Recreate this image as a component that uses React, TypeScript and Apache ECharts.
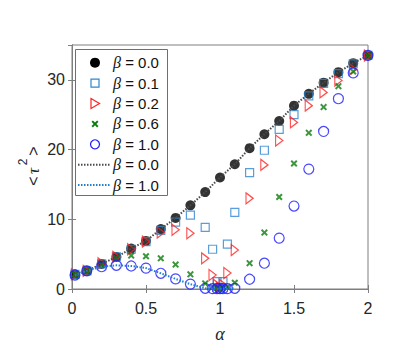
import React, { useEffect, useRef } from 'react';
import * as echarts from 'echarts';

// alpha grid for the beta = 0.0 markers and theory curve
const alphaCoarse = [0.02, 0.1, 0.2, 0.3, 0.4, 0.5, 0.6, 0.7, 0.8, 0.9, 1.0, 1.1, 1.2, 1.3, 1.4, 1.5, 1.6, 1.7, 1.8, 1.9, 2.0];
// alpha grid with refinement around alpha = 1
const alphaFine = [0.02, 0.1, 0.2, 0.3, 0.4, 0.5, 0.6, 0.7, 0.8, 0.9, 0.95, 0.98, 1.0, 1.02, 1.05, 1.1, 1.2, 1.3, 1.4, 1.5, 1.6, 1.7, 1.8, 1.9, 2.0];
// alpha grid of the beta = 1.0 theory curve
const alphaTheory1 = [0.02, 0.1, 0.2, 0.3, 0.4, 0.5, 0.6, 0.7, 0.8, 0.9, 0.95, 0.98, 1.0, 1.02, 1.05, 1.1];

const beta00 = [2.1, 2.6, 3.6, 4.6, 5.8, 6.9, 8.6, 10.2, 12.0, 13.9, 16.0, 17.9, 20.2, 22.2, 24.1, 26.3, 28.0, 29.6, 31.1, 32.4, 33.5];
const beta01 = [2.1, 2.6, 3.6, 4.6, 5.7, 6.8, 8.4, 9.6, 10.6, 8.85, 5.7, 1.05, 0.15, 1.05, 6.45, 11.0, 16.7, 19.9, 22.9, 25.0, 27.7, 29.5, 30.9, 32.3, 33.5];
const beta02 = [2.1, 2.6, 3.7, 4.6, 5.7, 6.8, 8.1, 8.5, 8.0, 4.4, 2.0, 0.6, 0.2, 0.6, 2.3, 5.6, 13.0, 17.8, 21.3, 23.9, 26.3, 28.2, 29.9, 31.5, 33.5];
const beta06 = [2.1, 2.6, 3.5, 4.4, 4.8, 4.7, 4.4, 3.5, 2.1, 0.8, 0.3, 0.15, 0.1, 0.15, 0.3, 0.9, 3.7, 8.1, 13.2, 18.0, 22.4, 26.1, 29.1, 31.2, 33.5];
const beta10 = [2.0, 2.6, 3.2, 3.4, 3.3, 3.0, 2.25, 1.45, 0.7, 0.1, 0.05, 0.05, 0.05, 0.05, 0.05, 0.1, 1.4, 3.7, 7.3, 11.9, 17.2, 22.6, 27.3, 31.0, 33.5];

const theory00 = [2.1, 2.6, 3.6, 4.6, 5.8, 6.9, 8.6, 10.2, 12.0, 13.9, 16.0, 17.9, 20.2, 22.2, 24.1, 26.3, 28.0, 29.6, 31.1, 32.4, 33.5];
const theory10 = [2.0, 2.6, 3.2, 3.4, 3.3, 3.0, 2.25, 1.45, 0.7, 0.1, 0.05, 0.03, 0.02, 0.03, 0.05, 0.1];

const xTicks = [0, 0.5, 1, 1.5, 2];
const yTicks = [0, 10, 20, 30];

const legendValues = ['0.0', '0.1', '0.2', '0.6', '1.0', '0.0', '1.0'];

const zip = (xs: number[], ys: number[]) => xs.map((x, i) => [x, ys[i]]);

const AXIS = '#7f7f7f';
const TXT = '#262626';
const SANS = '"Liberation Sans", Arial, sans-serif';
const SERIF = '"Liberation Serif", "Times New Roman", serif';

const C_BLACK = '#000000';
const C_SQ = '#2f86d0';
const C_TRI = '#ff2020';
const C_X = '#0b7d0b';
const C_CIR = '#1a1aff';
const C_L0 = '#4a4a4a';
const C_L1 = '#1f7fd0';

const X_PATH = 'path://M2,0 L5,3 L8,0 L10,2 L7,5 L10,8 L8,10 L5,7 L2,10 L0,8 L3,5 L0,2 Z';
const TRI_PATH = 'path://M0,0 L8,5 L0,10 Z';
const X_PTS = [[2, 0], [5, 3], [8, 0], [10, 2], [7, 5], [10, 8], [8, 10], [5, 7], [2, 10], [0, 8], [3, 5], [0, 2]];

function buildLegend() {
  const left = 75, top = 49, w = 92, h = 146;
  const y0 = 62.7, dy = 20.4;
  const mx = 95;
  const els: any[] = [
    { type: 'rect', z: 100, shape: { x: left + 0.5, y: top + 0.5, width: w, height: h }, style: { fill: '#ffffff', stroke: '#6f6f6f', lineWidth: 1 } },
  ];
  const ys = legendValues.map((_, i) => y0 + i * dy);
  els.push({ type: 'circle', z: 101, shape: { cx: mx, cy: ys[0], r: 5 }, style: { fill: C_BLACK } });
  els.push({ type: 'rect', z: 101, shape: { x: mx - 4, y: ys[1] - 4, width: 8, height: 8 }, style: { fill: 'none', stroke: C_SQ, lineWidth: 1.2 } });
  els.push({ type: 'polygon', z: 101, shape: { points: [[mx - 4, ys[2] - 5], [mx + 4.5, ys[2]], [mx - 4, ys[2] + 5]] }, style: { fill: 'none', stroke: C_TRI, lineWidth: 1.2 } });
  els.push({ type: 'polygon', z: 101, shape: { points: X_PTS.map(([a, b]) => [mx + (a - 5) * 0.7, ys[3] + (b - 5) * 0.7]) }, style: { fill: C_X } });
  els.push({ type: 'circle', z: 101, shape: { cx: mx, cy: ys[4], r: 4.5 }, style: { fill: 'none', stroke: C_CIR, lineWidth: 1.2 } });
  els.push({ type: 'line', z: 101, shape: { x1: 78, y1: ys[5], x2: 110, y2: ys[5] }, style: { stroke: C_L0, lineWidth: 2, lineDash: [1.5, 1.5] } });
  els.push({ type: 'line', z: 101, shape: { x1: 78, y1: ys[6], x2: 110, y2: ys[6] }, style: { stroke: C_L1, lineWidth: 2, lineDash: [1.5, 1.5] } });
  legendValues.forEach((v, i) => {
    els.push({
      type: 'text', z: 101, x: 113, y: ys[i],
      style: {
        text: `{b|β} = ${v}`,
        font: `15px ${SANS}`, fill: '#111',
        align: 'left', verticalAlign: 'middle', textAlign: 'left', textVerticalAlign: 'middle',
        rich: { b: { fontSize: 16, fontFamily: SERIF, fontStyle: 'italic', fill: '#111', color: '#111' } },
      },
    });
  });
  return els;
}

export default function App() {
  const ref = useRef<HTMLDivElement>(null);
  useEffect(() => {
    if (!ref.current) return;
    const chart = echarts.init(ref.current, undefined, { renderer: 'svg' });
    const xMin = xTicks[0], xMax = xTicks[xTicks.length - 1];
    const yMin = yTicks[0];
    const axisCommon = {
      axisLine: { show: true, lineStyle: { color: AXIS, width: 1 } },
      axisTick: { show: true, inside: true, length: 4, lineStyle: { color: AXIS } },
      splitLine: { show: false },
    };
    chart.setOption({
      animation: false,
      backgroundColor: '#ffffff',
      grid: { left: 72, top: 45, right: 31, bottom: 70, show: true, borderColor: AXIS, borderWidth: 1, backgroundColor: 'transparent' },
      xAxis: [
        {
          type: 'value', min: xMin, max: xMax, interval: 0.5, position: 'bottom',
          ...axisCommon,
          axisLabel: { show: true, fontSize: 16, color: TXT, fontFamily: SANS, margin: 11 },
          name: 'α', nameLocation: 'middle', nameGap: 36,
          nameTextStyle: { fontFamily: SERIF, fontStyle: 'italic', fontSize: 18, color: TXT },
        },
        {
          type: 'value', min: xMin, max: xMax, interval: 0.5, position: 'top',
          ...axisCommon, axisLabel: { show: false },
        },
      ],
      yAxis: [
        {
          type: 'value', min: yMin, max: 35, interval: 10, position: 'left',
          ...axisCommon,
          axisLabel: { show: true, fontSize: 16, color: TXT, fontFamily: SANS, margin: 7, showMaxLabel: false },
        },
        {
          type: 'value', min: yMin, max: 35, interval: 10, position: 'right',
          ...axisCommon, axisLabel: { show: false },
        },
      ],
      series: [
        {
          name: 'β = 0.0', type: 'scatter', symbol: 'circle', symbolSize: 10,
          itemStyle: { color: C_BLACK }, data: zip(alphaCoarse, beta00),
        },
        {
          name: 'β = 0.1', type: 'scatter', symbol: 'rect', symbolSize: 8,
          itemStyle: { color: 'rgba(255,255,255,0)', borderColor: C_SQ, borderWidth: 1.2 },
          data: zip(alphaFine, beta01),
        },
        {
          name: 'β = 0.2', type: 'scatter', symbol: TRI_PATH, symbolSize: [9, 11], symbolKeepAspect: true,
          itemStyle: { color: 'rgba(255,255,255,0)', borderColor: C_TRI, borderWidth: 1.2 },
          data: zip(alphaFine, beta02),
        },
        {
          name: 'β = 0.6', type: 'scatter', symbol: X_PATH, symbolSize: 7,
          itemStyle: { color: C_X }, data: zip(alphaFine, beta06),
        },
        {
          name: 'β = 1.0', type: 'scatter', symbol: 'circle', symbolSize: 10,
          itemStyle: { color: 'rgba(255,255,255,0)', borderColor: C_CIR, borderWidth: 1.2 },
          data: zip(alphaFine, beta10),
        },
        {
          name: 'theory β = 0.0', type: 'line', symbol: 'none', showSymbol: false,
          lineStyle: { color: C_L0, width: 2, type: [1.5, 1.5] },
          itemStyle: { color: C_L0 },
          data: zip(alphaCoarse, theory00),
        },
        {
          name: 'theory β = 1.0', type: 'line', symbol: 'none', showSymbol: false,
          lineStyle: { color: C_L1, width: 2, type: [1.5, 1.5] },
          itemStyle: { color: C_L1 },
          data: zip(alphaTheory1, theory10),
        },
      ],
      graphic: [
        ...buildLegend(),
        {
          type: 'group', x: 33, y: 166, rotation: Math.PI / 2,
          children: [
            { type: 'text', x: -15, y: 0, style: { text: '<', font: `16px ${SANS}`, fill: TXT, align: 'center', verticalAlign: 'middle', textAlign: 'center', textVerticalAlign: 'middle' } },
            { type: 'text', x: -5, y: 0, style: { text: 'τ', font: `italic 17px ${SERIF}`, fill: TXT, align: 'center', verticalAlign: 'middle', textAlign: 'center', textVerticalAlign: 'middle' } },
            { type: 'text', x: 4, y: -10, style: { text: '2', font: `12px ${SANS}`, fill: TXT, align: 'center', verticalAlign: 'middle', textAlign: 'center', textVerticalAlign: 'middle' } },
            { type: 'text', x: 15, y: 0, style: { text: '>', font: `16px ${SANS}`, fill: TXT, align: 'center', verticalAlign: 'middle', textAlign: 'center', textVerticalAlign: 'middle' } },
          ],
        },
      ],
    });
    return () => chart.dispose();
  }, []);
  return <div ref={ref} style={{ position: 'fixed', left: 0, top: 0, width: 399, height: 359 }} />;
}
